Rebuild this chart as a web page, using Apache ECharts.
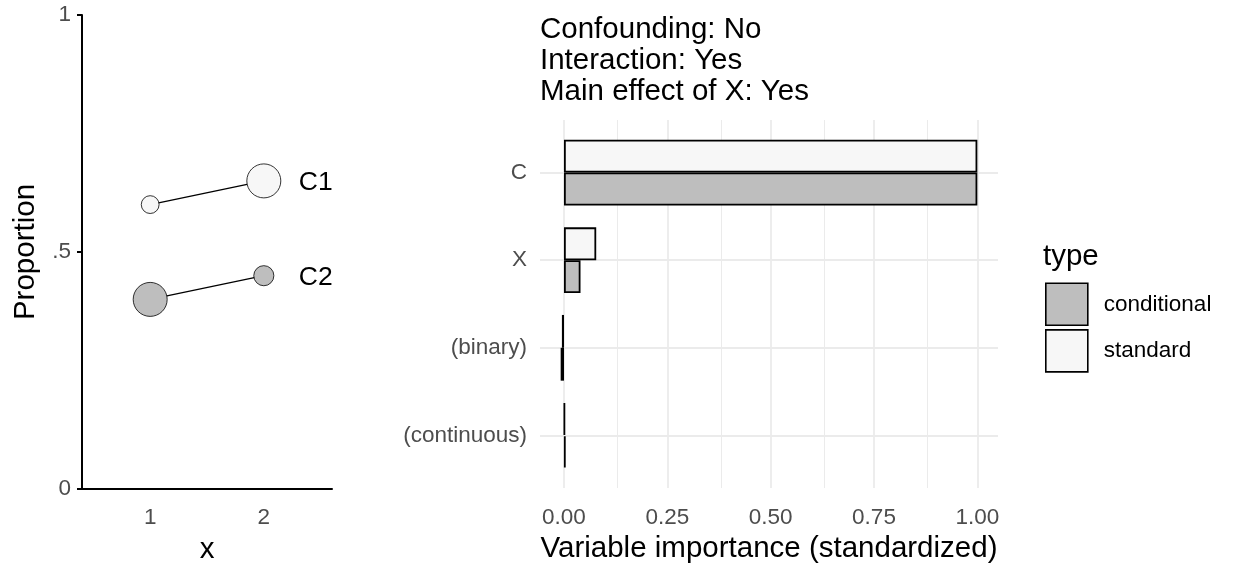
<!DOCTYPE html>
<html>
<head>
<meta charset="utf-8">
<script src="https://cdn.jsdelivr.net/npm/echarts@6/dist/echarts.min.js"></script>
<style>
html,body{margin:0;padding:0;background:#fff;}
#chart{width:1248px;height:576px;}
</style>
</head>
<body>
<div id="chart"></div>
<script>
// ---- data: left panel ----
var xLevels = [1, 2];
var xTickLabels = ['1', '2'];
var yTickValues = [0, 0.5, 1];
var yTickLabels = ['0', '.5', '1'];
var groupNames = ['C1', 'C2'];
var propC1 = [0.60, 0.65];
var propC2 = [0.40, 0.45];
var weightC1 = [0.22, 0.80];
var weightC2 = [0.80, 0.28];

// ---- data: right panel ----
var variables = ['C', 'X', '(binary)', '(continuous)'];
var typeNames = ['conditional', 'standard'];
var importanceConditional = [1.00, 0.040, -0.008, 0.004];
var importanceStandard = [1.00, 0.078, -0.005, 0.002];
var importanceTicks = [0, 0.25, 0.5, 0.75, 1];
var importanceMinorTicks = [0.125, 0.375, 0.625, 0.875];
var headingLines = ['Confounding: No', 'Interaction: Yes', 'Main effect of X: Yes'];

var FONT = "'Liberation Sans', Arial, sans-serif";
var GREY_TXT = '#4d4d4d';
var GRID_COL = '#ebebeb';
var FILL_COND = '#bebebe';
var FILL_STD = '#f7f7f7';
var TITLE_SIZE = 29.5;
var TICK_SIZE = 22.5;

function sizeOf(w) { return 38 * Math.sqrt(w); }

function pointSeries(name, props, weights, fill) {
  return {
    type: 'line',
    name: name,
    xAxisIndex: 0, yAxisIndex: 0,
    data: xLevels.map(function (x, i) {
      var item = { value: [x, props[i]] };
      if (i === xLevels.length - 1) {
        item.label = {
          show: true, formatter: name, position: 'inside', align: 'left',
          verticalAlign: 'middle', offset: [35, 2],
          color: '#000', fontSize: 26.5, fontFamily: FONT
        };
      }
      return item;
    }),
    symbol: 'circle',
    symbolSize: function (val, params) { return sizeOf(weights[params.dataIndex]); },
    itemStyle: { color: fill, borderColor: '#000', borderWidth: 0.8 },
    lineStyle: { color: '#000', width: 1.3 },
    label: { show: false },
    emphasis: { disabled: true },
    silent: true,
    z: 3
  };
}

var gridLineData = [];
importanceTicks.forEach(function (v) {
  gridLineData.push({ xAxis: v, lineStyle: { color: GRID_COL, width: 1.8, type: 'solid' } });
});
importanceMinorTicks.forEach(function (v) {
  gridLineData.push({ xAxis: v, lineStyle: { color: GRID_COL, width: 1.0, type: 'solid' } });
});
variables.forEach(function (c, i) {
  gridLineData.push({ yAxis: i, lineStyle: { color: GRID_COL, width: 1.8, type: 'solid' } });
});

var XMIN = -0.058, XMAX = 1.05;
var panelTop = 120, panelH = 368;
var unit = panelH / (variables.length - 1 + 1.2);

var option = {
  backgroundColor: '#fff',
  animation: false,
  textStyle: { fontFamily: FONT },
  title: [
    {
      text: headingLines.join('\n'), left: 540, top: 14, padding: 0,
      textStyle: { fontSize: TITLE_SIZE, lineHeight: 31, color: '#000', fontWeight: 'normal', fontFamily: FONT }
    },
    {
      text: 'type', left: 1043, top: 242, padding: 0,
      textStyle: { fontSize: TITLE_SIZE, lineHeight: TITLE_SIZE, color: '#000', fontWeight: 'normal', fontFamily: FONT }
    }
  ],
  legend: {
    data: typeNames,
    orient: 'vertical',
    left: 1045, top: 282.5, padding: 0,
    itemWidth: 42, itemHeight: 42, itemGap: 3,
    icon: 'rect',
    selectedMode: false,
    itemStyle: { borderColor: '#000', borderWidth: 1.6 },
    textStyle: { fontSize: TICK_SIZE, color: '#000', fontFamily: FONT, padding: [0, 0, 0, 11] }
  },
  grid: [
    { left: 82, top: 15, width: 250, height: 474 },
    { left: 540, top: panelTop + 0.1 * unit, width: 458, height: variables.length * unit },
    { left: 540, top: panelTop, width: 458, height: panelH }
  ],
  xAxis: [
    {
      type: 'value', gridIndex: 0, min: 0.4, max: 2.6,
      name: 'x', nameLocation: 'middle', nameGap: 43.5,
      nameTextStyle: { fontSize: TITLE_SIZE, color: '#000', fontFamily: FONT },
      axisLine: { show: true, lineStyle: { color: '#000', width: 2 } },
      axisTick: { show: false },
      splitLine: { show: false },
      axisLabel: {
        customValues: xLevels, margin: 17.5, color: GREY_TXT, fontSize: TICK_SIZE, fontFamily: FONT,
        formatter: function (v) { var i = xLevels.indexOf(v); return i >= 0 ? xTickLabels[i] : ''; }
      }
    },
    {
      type: 'value', gridIndex: 1, min: XMIN, max: XMAX,
      axisLine: { show: false }, axisTick: { show: false },
      axisLabel: { show: false }, splitLine: { show: false }
    },
    {
      type: 'value', gridIndex: 2, min: XMIN, max: XMAX,
      name: 'Variable importance (standardized)', nameLocation: 'middle', nameGap: 43,
      nameTextStyle: { fontSize: TITLE_SIZE, color: '#000', fontFamily: FONT },
      axisLine: { show: false }, axisTick: { show: false }, splitLine: { show: false },
      axisLabel: {
        customValues: importanceTicks, margin: 18, color: GREY_TXT, fontSize: TICK_SIZE, fontFamily: FONT,
        formatter: function (v) { return v.toFixed(2); }
      }
    }
  ],
  yAxis: [
    {
      type: 'value', gridIndex: 0, min: 0, max: 1, interval: 0.5,
      name: 'Proportion', nameLocation: 'middle', nameGap: 41,
      nameTextStyle: { fontSize: TITLE_SIZE, color: '#000', fontFamily: FONT },
      axisLine: { show: true, lineStyle: { color: '#000', width: 2 } },
      axisTick: { show: true, length: 5, lineStyle: { color: '#000', width: 2 } },
      splitLine: { show: false },
      axisLabel: {
        margin: 11, color: GREY_TXT, fontSize: TICK_SIZE, fontFamily: FONT,
        formatter: function (v) {
          for (var i = 0; i < yTickValues.length; i++) if (Math.abs(yTickValues[i] - v) < 1e-9) return yTickLabels[i];
          return '';
        }
      }
    },
    {
      type: 'category', gridIndex: 1, data: variables, inverse: true,
      axisLine: { show: false }, axisTick: { show: false }, splitLine: { show: false },
      axisLabel: { margin: 13, color: GREY_TXT, fontSize: TICK_SIZE, fontFamily: FONT }
    },
    {
      type: 'value', gridIndex: 2, min: -0.6, max: variables.length - 1 + 0.6, inverse: true,
      show: false
    }
  ],
  series: [
    {
      type: 'scatter', name: 'gridlines', xAxisIndex: 2, yAxisIndex: 2, data: [],
      silent: true, z: 0,
      markLine: {
        silent: true, symbol: ['none', 'none'], label: { show: false },
        emphasis: { disabled: true }, animation: false, z: 0,
        data: gridLineData
      }
    },
    {
      type: 'bar', name: 'standard', xAxisIndex: 1, yAxisIndex: 1,
      data: importanceStandard, barWidth: unit * 0.375, barGap: '0%',
      itemStyle: { color: FILL_STD, borderColor: '#000', borderWidth: 1.8 },
      emphasis: { disabled: true }, silent: true, z: 2
    },
    {
      type: 'bar', name: 'conditional', xAxisIndex: 1, yAxisIndex: 1,
      data: importanceConditional, barWidth: unit * 0.375, barGap: '0%',
      itemStyle: { color: FILL_COND, borderColor: '#000', borderWidth: 1.8 },
      emphasis: { disabled: true }, silent: true, z: 2
    },
    pointSeries(groupNames[0], propC1, weightC1, FILL_STD),
    pointSeries(groupNames[1], propC2, weightC2, FILL_COND)
  ]
};

var chart = echarts.init(document.getElementById('chart'), null, { renderer: 'canvas' });
chart.setOption(option);
</script>
</body>
</html>
